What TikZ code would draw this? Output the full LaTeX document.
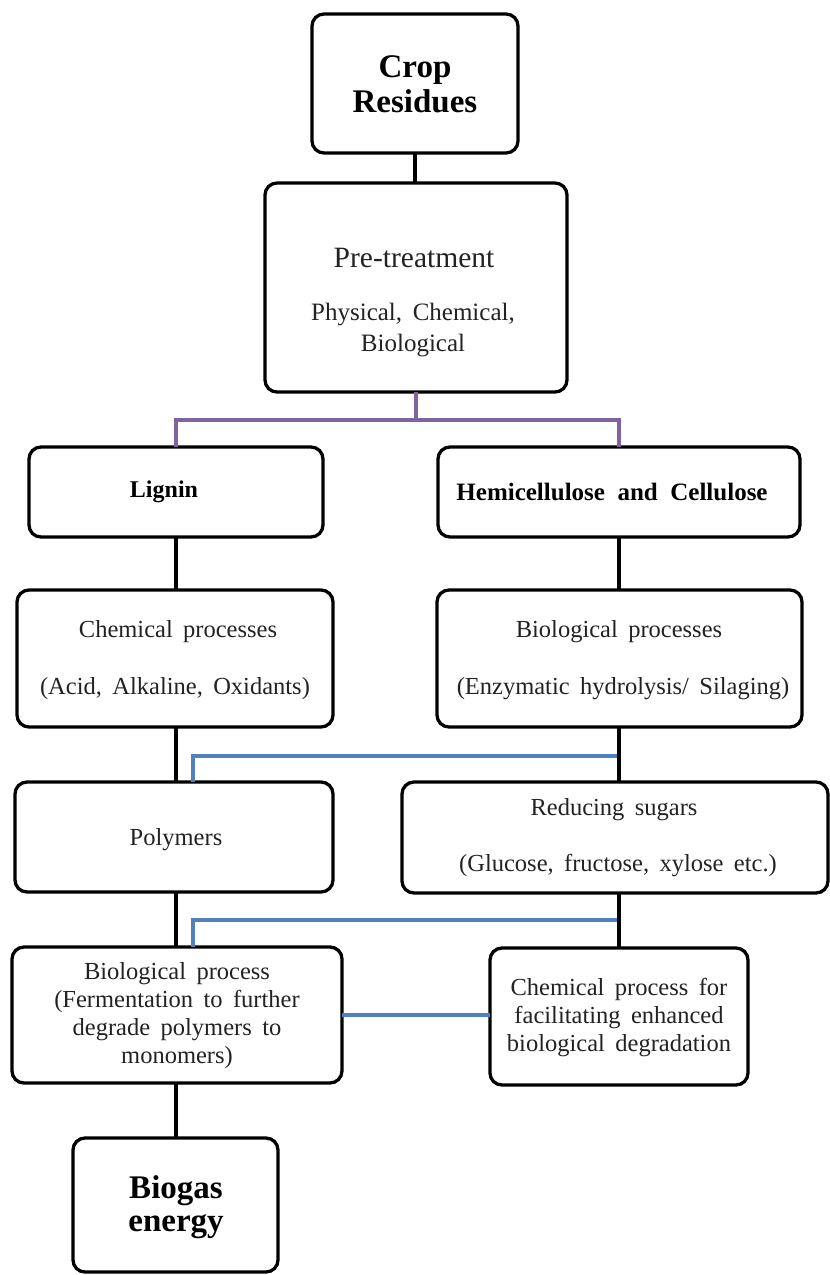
\documentclass[tikz,border=0pt]{standalone}
\usepackage{fontspec}
\setmainfont{Liberation Serif}[WordSpace={1.7}]
\definecolor{linkpurple}{HTML}{8064A2}
\definecolor{linkblue}{HTML}{4F81BD}
\definecolor{txt}{HTML}{222222}
\begin{document}
\begin{tikzpicture}[x=1pt,y=-1pt,
  box/.style={draw, line width=3.3pt, rounded corners=12pt, inner sep=0pt, outer sep=0pt},
  conn/.style={line width=3.3pt},
  pconn/.style={line width=3.2pt, linkpurple},
  bconn/.style={line width=3.2pt, linkblue},
  big/.style={font=\bfseries\fontsize{33}{35}\selectfont, align=center, inner sep=0pt},
  head/.style={font=\bfseries\fontsize{24}{28}\selectfont, align=center, inner sep=0pt},
  body/.style={font=\fontsize{24.5}{28}\selectfont, align=center, inner sep=0pt, text=txt},
]
\useasboundingbox (0,0) rectangle (830,1275);
% boxes
\node[box, minimum width=206pt, minimum height=139pt] (crop) at (415,83.5) {};
\node[box, minimum width=302pt, minimum height=209pt] (pre) at (416,287.5) {};
\node[box, minimum width=294pt, minimum height=90pt] (lignin) at (176,492) {};
\node[box, minimum width=362pt, minimum height=90pt] (hemi) at (619,492) {};
\node[box, minimum width=316pt, minimum height=137pt] (chem) at (175,658.5) {};
\node[box, minimum width=365pt, minimum height=137pt] (bio) at (619.5,658.5) {};
\node[box, minimum width=318pt, minimum height=110pt] (poly) at (174,837) {};
\node[box, minimum width=426pt, minimum height=111pt] (red) at (615,837.5) {};
\node[box, minimum width=330pt, minimum height=136pt] (bioproc) at (177,1015) {};
\node[box, minimum width=258pt, minimum height=137pt] (chemfor) at (619,1016.5) {};
\node[box, minimum width=205pt, minimum height=134pt] (biogas) at (175.5,1205) {};
% texts
\node[big] (tcrop) at (415,84) {Crop\\Residues};
\node[body, font=\fontsize{29.5}{32}\selectfont] (tpre1) at (414,258) {Pre-treatment};
\node[body, font=\fontsize{25}{31}\selectfont] (tpre2) at (413,330) {Physical, Chemical,\\Biological};
\node[head] (tlig) at (164,492) {Lignin};
\node[head, font=\bfseries\fontsize{25}{28}\selectfont] (themi) at (612,492) {Hemicellulose\hspace{0.5em}and\hspace{0.5em}Cellulose};
\node[body] (tchem1) at (178,632) {Chemical processes};
\node[body] (tchem2) at (175,689) {(Acid, Alkaline, Oxidants)};
\node[body] (tbio1) at (619,632) {Biological processes};
\node[body] (tbio2) at (623,689) {(Enzymatic hydrolysis/ Silaging)};
\node[body] (tpoly) at (176,840) {Polymers};
\node[body] (tred1) at (614,810) {Reducing sugars};
\node[body] (tred2) at (618,866) {(Glucose, fructose, xylose etc.)};
\node[body] (tbioproc) at (177,1016) {Biological process\\(Fermentation to further\\degrade polymers to\\monomers)};
\node[body] (tchemfor) at (619,1018) {Chemical process for\\facilitating enhanced\\biological degradation};
\node[big, font=\bfseries\fontsize{33}{33}\selectfont] (tbiogas) at (176,1207) {Biogas\\energy};
% coloured connectors
\coordinate (j1) at (619,756);
\coordinate (j2) at (619,920);
\draw[bconn] (j1) -| ([xshift=19pt]poly.north);
\draw[bconn] (j2) -| ([xshift=16pt]bioproc.north);
\draw[bconn] (bioproc.east) -- (bioproc.east -| chemfor.west);
\coordinate (pj) at (416,420);
\draw[pconn] (pre.south) -- (pj);
\draw[pconn] (lignin.north) |- (pj) -| (hemi.north);
% black connectors
\draw[conn] (crop.south) -- (crop.south |- pre.north);
\draw[conn] (lignin.south) -- (lignin.south |- chem.north);
\draw[conn] (hemi.south) -- (hemi.south |- bio.north);
\draw[conn] (lignin.south |- chem.south) -- (lignin.south |- poly.north);
\draw[conn] (hemi.south |- bio.south) -- (hemi.south |- red.north);
\draw[conn] (lignin.south |- poly.south) -- (lignin.south |- bioproc.north);
\draw[conn] (hemi.south |- red.south) -- (hemi.south |- chemfor.north);
\draw[conn] (lignin.south |- bioproc.south) -- (lignin.south |- biogas.north);
\end{tikzpicture}
\end{document}
